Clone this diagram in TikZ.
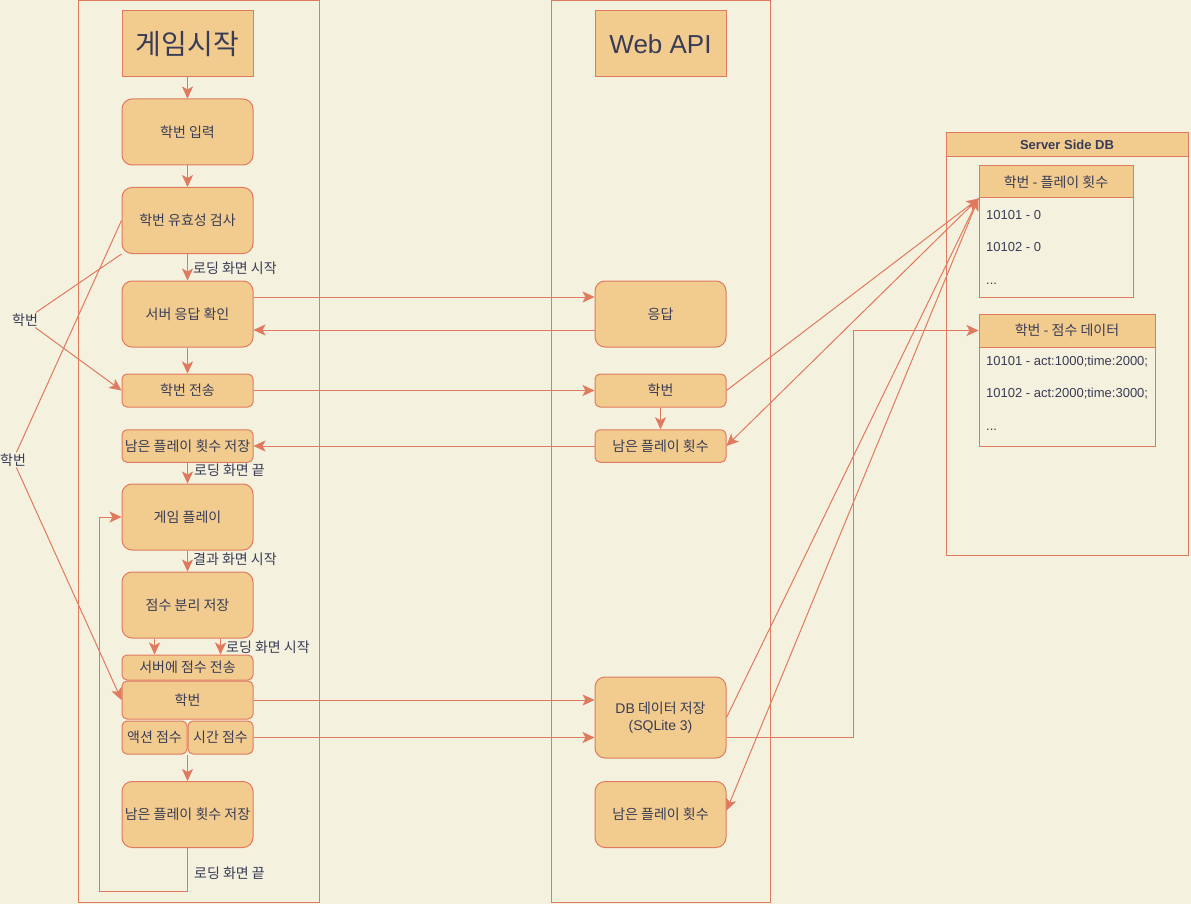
\documentclass[tikz,border=0pt]{standalone}
\usepackage{fontspec}
\setmainfont{Liberation Sans}
\newfontfamily\kr{Noto Sans CJK KR}
\usetikzlibrary{arrows.meta}
\definecolor{bg}{HTML}{F4F1DE}
\definecolor{boxfill}{HTML}{F2CC8F}
\definecolor{edgec}{HTML}{E07A5F}
\definecolor{txt}{HTML}{393C56}
\begin{document}
\begin{tikzpicture}[x=1pt,y=-1pt,
  every node/.style={text=txt, font=\fontsize{14}{17}\selectfont\kr},
  box/.style={draw=edgec, fill=boxfill, line width=1pt, rounded corners=10pt, inner sep=0pt, minimum width=131pt, minimum height=66pt},
  sbox/.style={box, rounded corners=5pt, minimum height=33pt},
  sqbox/.style={box, rounded corners=0pt},
  cont/.style={draw=edgec, line width=1pt},
  ln/.style={color=edgec, line width=1pt},
  arr/.style={ln, -{Stealth[length=12pt,width=11pt,inset=3pt,line width=0.5pt]}},
  lbl/.style={inner sep=1pt, fill=bg},
  elbl/.style={inner sep=0pt, anchor=west},
  row/.style={inner sep=0pt, anchor=west, font=\fontsize{13}{17}\selectfont\rmfamily}
]
\fill[bg] (0,0) rectangle (1191,904);
\useasboundingbox (0,0) rectangle (1191,904);
% containers
\draw[cont] (78,0.5) rectangle (319,902);
\draw[cont] (551,0.5) rectangle (770,902);
\draw[cont] (946,133) rectangle (1188,555);
\node[sqbox, minimum width=242pt, minimum height=24pt, font=\fontsize{13}{17}\selectfont\rmfamily\bfseries] (sdb) at (1067,145) {Server Side DB};

% tables
\node[draw=edgec, line width=1pt, fill=bg, minimum width=154pt, minimum height=131pt, inner sep=0pt] (t1) at (1056,231.5) {};
\node[sqbox, minimum width=154pt, minimum height=32pt] (t1h) at (1056,182) {학번 - 플레이 횟수};
\node[row] (r11) at (986,215) {10101 - 0};
\node[row] (r12) at (986,247) {10102 - 0};
\node[row] (r13) at (986,284) {...};
\node[draw=edgec, line width=1pt, fill=bg, minimum width=176pt, minimum height=132pt, inner sep=0pt] (t2) at (1067,380) {};
\node[sqbox, minimum width=176pt, minimum height=33pt] (t2h) at (1067,330.5) {학번 - 점수 데이터};
\node[row] (r21) at (986,362) {10101 - act:1000;time:2000;};
\node[row] (r22) at (986,394) {10102 - act:2000;time:3000;};
\node[row] (r23) at (986,430) {...};

% left column
\node[sqbox, font=\fontsize{28}{32}\selectfont\kr] (start) at (187.5,44) {게임시작};
\node[box] (input) at (187.5,132) {학번 입력};
\node[box] (chk) at (187.5,220.5) {학번 유효성 검사};
\node[box] (resp) at (187.5,314) {서버 응답 확인};
\node[sbox] (send) at (187.5,390.5) {학번 전송};
\node[sbox, minimum height=32.5pt] (remain) at (187.5,446) {남은 플레이 횟수 저장};
\node[box] (play) at (187.5,517) {게임 플레이};
\node[box] (split) at (187.5,605) {점수 분리 저장};
\node[sbox, minimum height=25pt] (sendsc) at (187.5,667.5) {서버에 점수 전송};
\node[sbox, minimum height=38pt] (sid) at (187.5,700) {학번};
\node[sbox, minimum width=65pt] (act) at (154.5,737.5) {액션 점수};
\node[sbox, minimum width=65pt] (tim) at (220.5,737.5) {시간 점수};
\node[box] (remain2) at (187.5,814.5) {남은 플레이 횟수 저장};

% middle column
\node[sqbox, font=\fontsize{26}{30}\selectfont\rmfamily] (webapi) at (660.5,44) {Web API};
\node[box] (ans) at (660.5,314) {응답};
\node[sbox] (msid) at (660.5,390.5) {학번};
\node[sbox, minimum height=32.5pt] (mrem) at (660.5,446) {남은 플레이 횟수};
\node[box, minimum height=81pt, align=center] (dbsave) at (660.5,717.5) {{\rmfamily DB} 데이터 저장\\{\rmfamily (SQLite 3)}};
\node[box] (mrem2) at (660.5,814.5) {남은 플레이 횟수};

% vertical flow
\draw[arr] (start) -- (input);
\draw[arr] (input) -- (chk);
\draw[arr] (chk) -- (resp);
\node[elbl] (l1) at (193,268) {로딩 화면 시작};
\draw[arr] (resp) -- (send);
\draw[arr] (remain) -- (play);
\node[elbl] (l2) at (194,470.5) {로딩 화면 끝};
\draw[arr] (play) -- (split);
\node[elbl] (l3) at (193,559.5) {결과 화면 시작};
\draw[arr] (split.south -| act.north) -- (sendsc.north -| act.north);
\draw[arr] (split.south -| tim.north) -- (sendsc.north -| tim.north);
\node[elbl] (l4) at (226,647.5) {로딩 화면 시작};
\draw[arr] (remain2.north |- act.south) -- (remain2.north);
\coordinate (loopA) at (99,891);
\draw[arr] (remain2.south) |- (loopA) |- (play.west);
\node[elbl] (l5) at (194,873.5) {로딩 화면 끝};

% left labels
\node[lbl] (lab1) at (25,320) {학번};
\node[lbl] (lab2) at (13,460) {학번};
\draw[ln] (chk.south west) -- (lab1);
\draw[arr] (lab1) -- (send.west);
\draw[ln] (chk.west) -- (lab2);
\draw[arr] (lab2) -- (sid.west);

% horizontal
\draw[arr] ([yshift=17pt]resp.east) -- ([yshift=17pt]ans.west);
\draw[arr] ([yshift=-16pt]ans.west) -- ([yshift=-16pt]resp.east);
\draw[arr] (send) -- (msid);
\draw[arr] (mrem) -- (remain);
\draw[arr] (msid) -- (mrem);
\draw[arr] (sid.east) -- (sid.east -| dbsave.west);
\draw[arr] (tim.east) -- (tim.east -| dbsave.west);

% to DB
\draw[arr] (msid.east) -- (t1h.south west);
\draw[arr] (t1h.south west) -- (mrem.east);
\draw[arr] (dbsave.east) -- (t1h.south west);
\draw[arr] (t1h.south west) -- ([yshift=4pt]mrem2.east);
\coordinate (k1) at (853,330.5);
\draw[arr] (tim.east -| dbsave.east) -| (k1) -- (t2h.west);
\end{tikzpicture}
\end{document}
